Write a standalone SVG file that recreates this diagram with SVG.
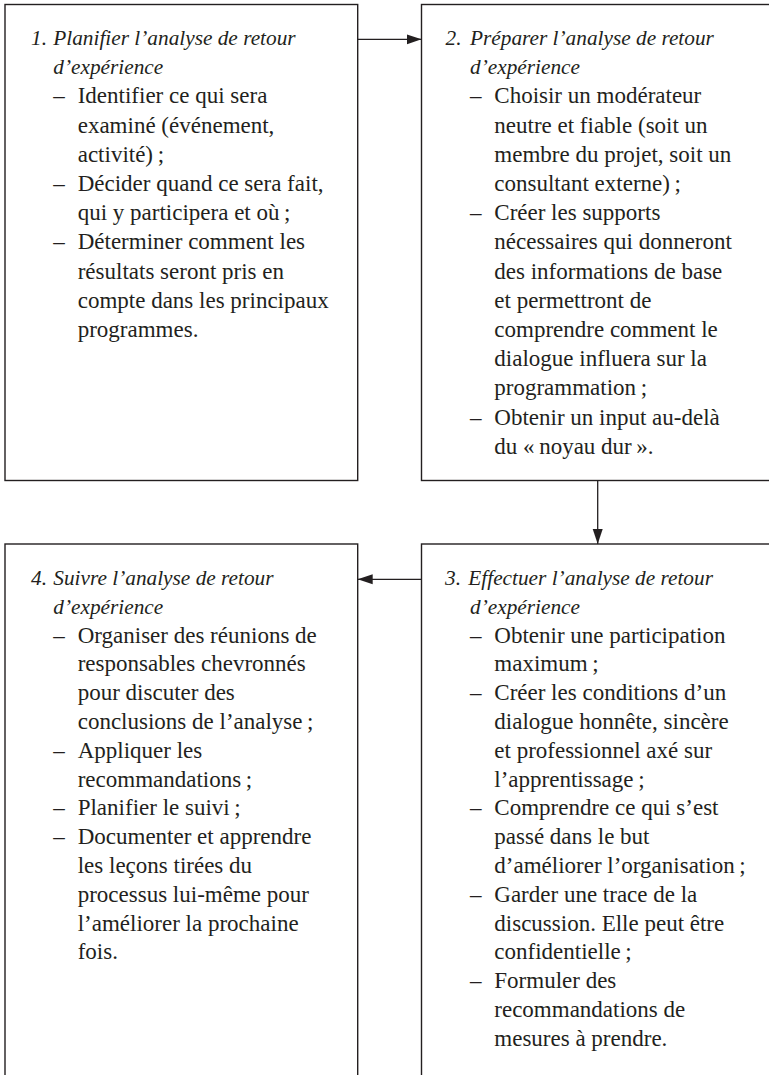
<svg xmlns="http://www.w3.org/2000/svg" width="769" height="1075" viewBox="0 0 769 1075">
  <style>
    .box { fill: #ffffff; stroke: #231f20; stroke-width: 1.4; }
    .link { fill: none; stroke: #231f20; stroke-width: 1.3; }
    text { font-family: "Liberation Serif", "Times New Roman", serif; font-size: 23px; fill: #231f20; }
    .ti { font-style: italic; font-size: 21.3px; }
  </style>
  <defs>
    <marker id="arrow" markerUnits="userSpaceOnUse" markerWidth="16" markerHeight="12" refX="15" refY="6" orient="auto">
      <path d="M0,1 L15,6 L0,11 Z" fill="#231f20"/>
    </marker>
  </defs>
  <rect width="769" height="1075" fill="#ffffff"/>

  <!-- step 1 -->
  <g id="step1">
    <rect class="box" x="5" y="4.5" width="352.7" height="476"/>
    <text class="ti" x="31" y="45">1.</text>
    <text class="ti" x="53.3" y="45">Planifier l’analyse de retour</text>
    <text class="ti" x="53.3" y="74.2">d’expérience</text>
    <text x="53.3" y="103.4">–</text>
    <text x="77.7" y="103.4">Identifier ce qui sera</text>
    <text x="77.7" y="132.6">examiné (événement,</text>
    <text x="77.7" y="161.8">activité)&#8239;;</text>
    <text x="53.3" y="191">–</text>
    <text x="77.7" y="191">Décider quand ce sera fait,</text>
    <text x="77.7" y="220.2">qui y participera et où&#8239;;</text>
    <text x="53.3" y="249.4">–</text>
    <text x="77.7" y="249.4">Déterminer comment les</text>
    <text x="77.7" y="278.6">résultats seront pris en</text>
    <text x="77.7" y="307.8">compte dans les principaux</text>
    <text x="77.7" y="337">programmes.</text>
  </g>

  <!-- step 2 -->
  <g id="step2">
    <rect class="box" x="421.5" y="4.5" width="400" height="476"/>
    <text class="ti" x="445.5" y="45">2.</text>
    <text class="ti" x="470" y="45">Préparer l’analyse de retour</text>
    <text class="ti" x="470" y="74.2">d’expérience</text>
    <text x="470" y="103.4">–</text>
    <text x="494.3" y="103.4">Choisir un modérateur</text>
    <text x="494.3" y="132.6">neutre et fiable (soit un</text>
    <text x="494.3" y="161.8">membre du projet, soit un</text>
    <text x="494.3" y="191">consultant externe)&#8239;;</text>
    <text x="470" y="220.2">–</text>
    <text x="494.3" y="220.2">Créer les supports</text>
    <text x="494.3" y="249.4">nécessaires qui donneront</text>
    <text x="494.3" y="278.6">des informations de base</text>
    <text x="494.3" y="307.8">et permettront de</text>
    <text x="494.3" y="337">comprendre comment le</text>
    <text x="494.3" y="366.2">dialogue influera sur la</text>
    <text x="494.3" y="395.4">programmation&#8239;;</text>
    <text x="470" y="424.6">–</text>
    <text x="494.3" y="424.6">Obtenir un input au-delà</text>
    <text x="494.3" y="453.8">du «&#8239;noyau dur&#8239;».</text>
  </g>

  <!-- step 3 -->
  <g id="step3">
    <rect class="box" x="421.5" y="544" width="400" height="600"/>
    <text class="ti" x="445" y="585">3.</text>
    <text class="ti" x="468.3" y="585">Effectuer l’analyse de retour</text>
    <text class="ti" x="470" y="613.8">d’expérience</text>
    <text x="470" y="642.6">–</text>
    <text x="494.3" y="642.6">Obtenir une participation</text>
    <text x="494.3" y="671.4">maximum&#8239;;</text>
    <text x="470" y="700.2">–</text>
    <text x="494.3" y="700.2">Créer les conditions d’un</text>
    <text x="494.3" y="729">dialogue honnête, sincère</text>
    <text x="494.3" y="757.8">et professionnel axé sur</text>
    <text x="494.3" y="786.6">l’apprentissage&#8239;;</text>
    <text x="470" y="815.4">–</text>
    <text x="494.3" y="815.4">Comprendre ce qui s’est</text>
    <text x="494.3" y="844.2">passé dans le but</text>
    <text x="494.3" y="873">d’améliorer l’organisation&#8239;;</text>
    <text x="470" y="901.8">–</text>
    <text x="494.3" y="901.8">Garder une trace de la</text>
    <text x="494.3" y="930.6">discussion. Elle peut être</text>
    <text x="494.3" y="959.4">confidentielle&#8239;;</text>
    <text x="470" y="988.2">–</text>
    <text x="494.3" y="988.2">Formuler des</text>
    <text x="494.3" y="1017">recommandations de</text>
    <text x="494.3" y="1045.8">mesures à prendre.</text>
  </g>

  <!-- step 4 -->
  <g id="step4">
    <rect class="box" x="5" y="544" width="352.7" height="600"/>
    <text class="ti" x="31" y="585">4.</text>
    <text class="ti" x="53.3" y="585">Suivre l’analyse de retour</text>
    <text class="ti" x="53.3" y="613.8">d’expérience</text>
    <text x="53.3" y="642.6">–</text>
    <text x="77.7" y="642.6">Organiser des réunions de</text>
    <text x="77.7" y="671.4">responsables chevronnés</text>
    <text x="77.7" y="700.2">pour discuter des</text>
    <text x="77.7" y="729">conclusions de l’analyse&#8239;;</text>
    <text x="53.3" y="757.8">–</text>
    <text x="77.7" y="757.8">Appliquer les</text>
    <text x="77.7" y="786.6">recommandations&#8239;;</text>
    <text x="53.3" y="815.4">–</text>
    <text x="77.7" y="815.4">Planifier le suivi&#8239;;</text>
    <text x="53.3" y="844.2">–</text>
    <text x="77.7" y="844.2">Documenter et apprendre</text>
    <text x="77.7" y="873">les leçons tirées du</text>
    <text x="77.7" y="901.8">processus lui-même pour</text>
    <text x="77.7" y="930.6">l’améliorer la prochaine</text>
    <text x="77.7" y="959.4">fois.</text>
  </g>

  <!-- connectors -->
  <g id="connectors">
    <line class="link" x1="357.7" y1="39.3" x2="421.5" y2="39.3" marker-end="url(#arrow)"/>
    <line class="link" x1="597.7" y1="480.5" x2="597.7" y2="544" marker-end="url(#arrow)"/>
    <line class="link" x1="421.5" y1="579.3" x2="357.7" y2="579.3" marker-end="url(#arrow)"/>
  </g>
</svg>
